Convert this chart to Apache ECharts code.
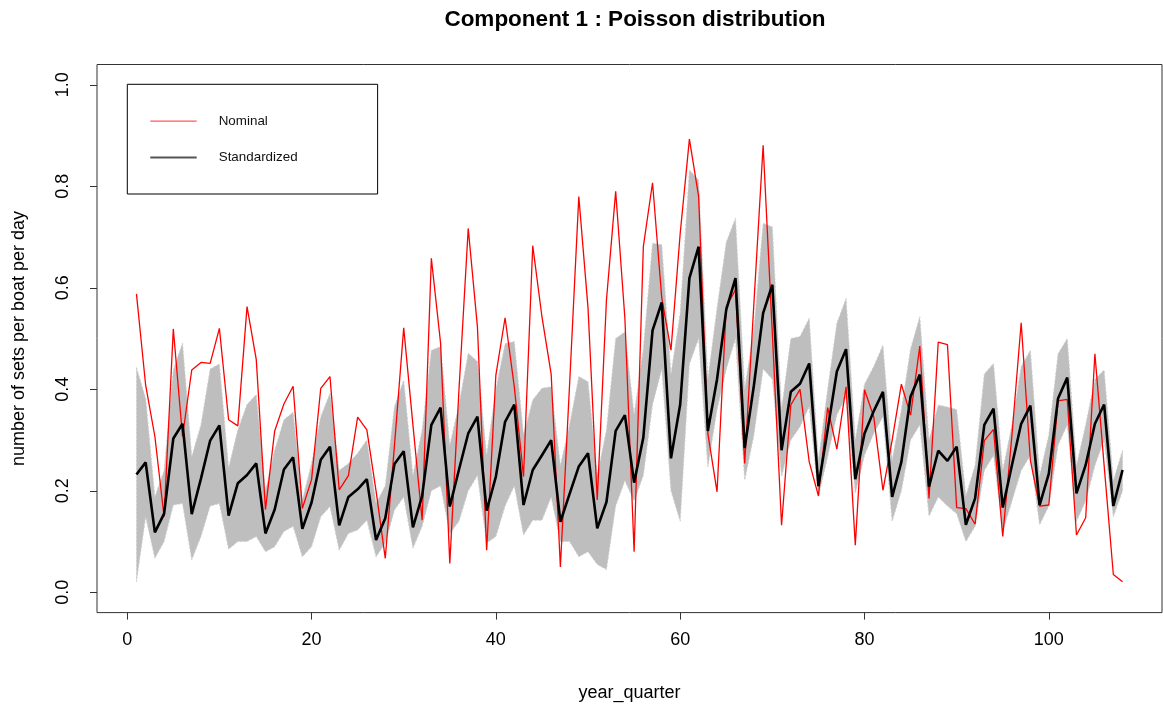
<!DOCTYPE html>
<html>
<head>
    <meta charset="utf-8">
    <script src="https://cdn.jsdelivr.net/npm/echarts@6.0.0/dist/echarts.min.js"></script>
    <style>
        body { margin: 0; background: #fff; }
        #chart { width: 1163px; height: 711px; }
    </style>
</head>
<body>
<div id="chart"></div>
<script>
    // values, one per quarter (1..108)
    const nominal = [
        0.588, 0.408, 0.307, 0.149, 0.519, 0.307, 0.438, 0.453, 0.451, 0.520,
        0.340, 0.328, 0.563, 0.459, 0.163, 0.318, 0.371, 0.406, 0.165, 0.222,
        0.402, 0.425, 0.202, 0.230, 0.345, 0.320, 0.200, 0.067, 0.290, 0.521,
        0.330, 0.142, 0.658, 0.491, 0.057, 0.400, 0.717, 0.523, 0.083, 0.428,
        0.541, 0.405, 0.228, 0.683, 0.543, 0.430, 0.050, 0.410, 0.780, 0.560,
        0.182, 0.576, 0.790, 0.540, 0.080, 0.681, 0.807, 0.580, 0.477, 0.707,
        0.893, 0.780, 0.313, 0.198, 0.563, 0.596, 0.254, 0.570, 0.881, 0.510,
        0.132, 0.369, 0.400, 0.257, 0.190, 0.364, 0.282, 0.405, 0.093, 0.399,
        0.346, 0.201, 0.300, 0.410, 0.349, 0.485, 0.185, 0.493, 0.488, 0.167,
        0.165, 0.134, 0.299, 0.321, 0.110, 0.310, 0.531, 0.260, 0.170, 0.172,
        0.377, 0.380, 0.113, 0.147, 0.470, 0.250, 0.035, 0.021
    ]
    const standardized = [
        0.232, 0.256, 0.118, 0.155, 0.303, 0.332, 0.154, 0.224, 0.299, 0.329,
        0.151, 0.215, 0.231, 0.254, 0.116, 0.163, 0.242, 0.266, 0.125, 0.177,
        0.261, 0.287, 0.132, 0.188, 0.203, 0.223, 0.103, 0.146, 0.253, 0.278,
        0.128, 0.190, 0.330, 0.364, 0.169, 0.242, 0.313, 0.346, 0.161, 0.228,
        0.336, 0.370, 0.172, 0.241, 0.270, 0.300, 0.139, 0.194, 0.248, 0.274,
        0.126, 0.178, 0.318, 0.349, 0.216, 0.305, 0.516, 0.571, 0.264, 0.370,
        0.619, 0.681, 0.318, 0.420, 0.557, 0.619, 0.284, 0.408, 0.550, 0.606,
        0.280, 0.395, 0.411, 0.451, 0.209, 0.320, 0.435, 0.479, 0.223, 0.313,
        0.357, 0.395, 0.188, 0.257, 0.386, 0.429, 0.208, 0.279, 0.259, 0.287,
        0.133, 0.185, 0.330, 0.362, 0.167, 0.251, 0.332, 0.368, 0.172, 0.234,
        0.382, 0.423, 0.195, 0.251, 0.332, 0.370, 0.170, 0.241
    ]
    const bandUpper = [
        0.443, 0.382, 0.188, 0.240, 0.438, 0.491, 0.267, 0.330, 0.440, 0.450,
        0.245, 0.320, 0.370, 0.390, 0.200, 0.280, 0.340, 0.355, 0.182, 0.254,
        0.346, 0.392, 0.240, 0.254, 0.274, 0.300, 0.175, 0.210, 0.366, 0.418,
        0.230, 0.320, 0.477, 0.484, 0.290, 0.370, 0.471, 0.455, 0.270, 0.400,
        0.490, 0.494, 0.310, 0.379, 0.402, 0.405, 0.250, 0.330, 0.425, 0.415,
        0.230, 0.320, 0.500, 0.513, 0.350, 0.480, 0.688, 0.685, 0.430, 0.550,
        0.832, 0.812, 0.420, 0.560, 0.690, 0.737, 0.400, 0.520, 0.727, 0.720,
        0.360, 0.500, 0.504, 0.540, 0.260, 0.400, 0.530, 0.579, 0.300, 0.410,
        0.445, 0.487, 0.260, 0.360, 0.480, 0.543, 0.300, 0.369, 0.365, 0.360,
        0.190, 0.250, 0.430, 0.451, 0.240, 0.330, 0.445, 0.477, 0.230, 0.310,
        0.470, 0.500, 0.250, 0.330, 0.420, 0.438, 0.220, 0.280
    ]
    const bandLower = [
        0.021, 0.149, 0.067, 0.100, 0.172, 0.175, 0.064, 0.110, 0.170, 0.175,
        0.085, 0.100, 0.100, 0.110, 0.080, 0.090, 0.120, 0.130, 0.070, 0.090,
        0.149, 0.169, 0.083, 0.116, 0.123, 0.142, 0.070, 0.097, 0.162, 0.188,
        0.087, 0.130, 0.200, 0.210, 0.116, 0.140, 0.200, 0.230, 0.097, 0.110,
        0.170, 0.210, 0.113, 0.142, 0.142, 0.188, 0.100, 0.100, 0.070, 0.080,
        0.055, 0.045, 0.170, 0.220, 0.180, 0.230, 0.370, 0.440, 0.200, 0.140,
        0.450, 0.500, 0.247, 0.360, 0.440, 0.500, 0.221, 0.310, 0.440, 0.420,
        0.228, 0.300, 0.326, 0.366, 0.188, 0.267, 0.350, 0.385, 0.195, 0.270,
        0.313, 0.346, 0.140, 0.200, 0.300, 0.330, 0.150, 0.188, 0.170, 0.155,
        0.100, 0.130, 0.240, 0.270, 0.120, 0.180, 0.240, 0.270, 0.133, 0.170,
        0.290, 0.330, 0.140, 0.180, 0.250, 0.300, 0.149, 0.200
    ]
    const quarters = nominal.map((v, i) => i + 1)
    const xTicks = [0, 20, 40, 60, 80, 100]
    const yTicks = [0, 0.2, 0.4, 0.6, 0.8, 1.0]

    const font = '"Liberation Sans", Arial, Helvetica, sans-serif'
    const chart = echarts.init(document.getElementById('chart'))

    const option = {
        backgroundColor: '#fff',
        animation: false,
        textStyle: { fontFamily: font },
        title: {
            text: 'Component 1 : Poisson distribution',
            left: 630,
            top: 3,
            textAlign: 'center',
            textStyle: { fontFamily: font, fontSize: 22.5, fontWeight: 'bold', color: '#000' }
        },
        legend: {
            orient: 'vertical',
            left: 127.3,
            top: 84.3,
            padding: [30.4, 80, 30, 22],
            itemWidth: 46.4,
            itemHeight: 14,
            itemGap: 23.3,
            borderColor: '#000',
            borderWidth: 1,
            borderRadius: 0,
            textStyle: { fontFamily: font, fontSize: 13.4, color: '#111', padding: [0, 0, 0, 17] },
            data: [
                { name: 'Nominal', itemStyle: { opacity: 0 }, lineStyle: { width: 1.3, color: '#ff5a5a' } },
                { name: 'Standardized', itemStyle: { opacity: 0 }, lineStyle: { width: 2, color: '#555' } }
            ]
        },
        grid: {
            show: true,
            left: 97,
            right: 1,
            top: 64.5,
            bottom: 98.4,
            borderColor: '#333',
            borderWidth: 1,
            backgroundColor: 'transparent'
        },
        xAxis: {
            type: 'value',
            min: -3.28,
            max: 112.28,
            name: 'year_quarter',
            nameLocation: 'middle',
            nameGap: 71,
            nameTextStyle: { fontFamily: font, fontSize: 18, color: '#000' },
            axisLine: { show: false, onZero: false },
            splitLine: { show: false },
            axisTick: { show: true, length: 7, lineStyle: { color: '#333' }, customValues: xTicks },
            axisLabel: { fontSize: 18, color: '#000', margin: 18, customValues: xTicks }
        },
        yAxis: {
            type: 'value',
            min: -0.04,
            max: 1.04,
            name: 'number of sets per boat per day',
            nameLocation: 'middle',
            nameGap: 69,
            nameRotate: 90,
            nameTextStyle: { fontFamily: font, fontSize: 18, color: '#000' },
            axisLine: { show: false, onZero: false },
            splitLine: { show: false },
            axisTick: { show: true, length: 7, lineStyle: { color: '#333' }, customValues: yTicks },
            axisLabel: {
                fontSize: 18, color: '#000', margin: 25, rotate: 90,
                customValues: yTicks,
                formatter: v => v.toFixed(1)
            }
        },
        series: [
            {
                name: 'band',
                type: 'custom',
                silent: true,
                data: quarters.map((q, i) => [q, bandLower[i], bandUpper[i]]),
                encode: { x: 0, y: [1, 2] },
                renderItem: function (params, api) {
                    if (params.dataIndex !== 0) return null
                    const pts = []
                    for (let i = 0; i < quarters.length; i++) {
                        pts.push(api.coord([quarters[i], bandUpper[i]]))
                    }
                    for (let i = quarters.length - 1; i >= 0; i--) {
                        pts.push(api.coord([quarters[i], bandLower[i]]))
                    }
                    return {
                        type: 'polygon',
                        shape: { points: pts },
                        style: { fill: '#bebebe', stroke: '#cfcfcf', lineWidth: 1, lineDash: [2, 2] }
                    }
                },
                z: 1
            },
            {
                name: 'Nominal',
                type: 'line',
                data: quarters.map((q, i) => [q, nominal[i]]),
                symbol: 'none',
                lineStyle: { color: '#ff0000', width: 1.3 },
                itemStyle: { color: '#ff0000' },
                z: 3
            },
            {
                name: 'Standardized',
                type: 'line',
                data: quarters.map((q, i) => [q, standardized[i]]),
                symbol: 'none',
                lineStyle: { color: '#000', width: 2.6 },
                itemStyle: { color: '#000' },
                z: 4
            }
        ]
    }
    chart.setOption(option)
</script>
</body>
</html>
